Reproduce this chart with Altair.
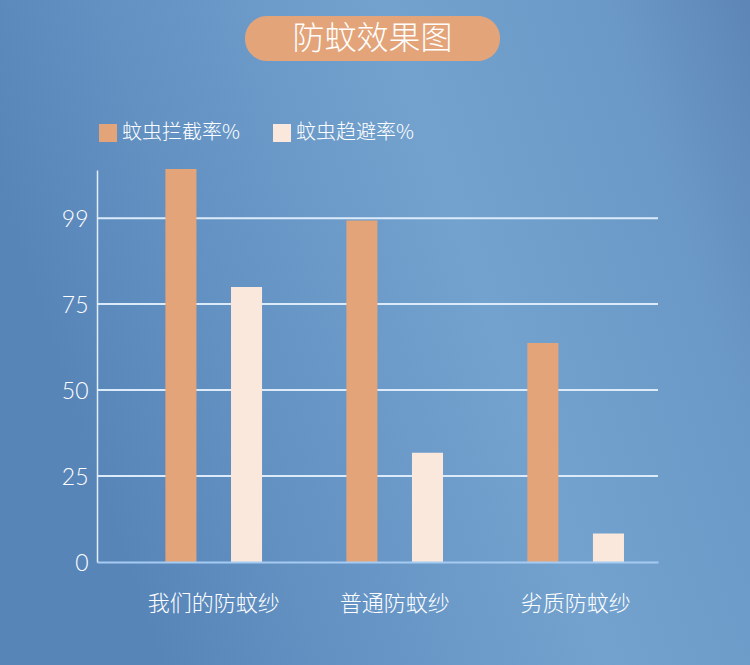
import altair as alt
import pandas as pd

# ---- data ----
categories = ["我们的防蚊纱", "普通防蚊纱", "劣质防蚊纱"]
series = ["蚊虫拦截率%", "蚊虫趋避率%"]
intercept_rate = [114.3, 99.3, 63.7]
repel_rate = [80.0, 31.8, 8.3]
y_ticks = [0, 25, 50, 75, 100]
y_tick_labels = ["0", "25", "50", "75", "99"]
grid_values = [25, 50, 75, 100]
title_text = "防蚊效果图"
bar_colors = ["#e3a47a", "#fbe8dc"]

rows = []
for c, a, b in zip(categories, intercept_rate, repel_rate):
    rows.append({"category": c, "series": series[0], "value": a})
    rows.append({"category": c, "series": series[1], "value": b})
df = pd.DataFrame(rows)
grid_df = pd.DataFrame({"value": grid_values})

# label expression built from the tick lists
label_expr = "datum.label"
for v, lab in zip(y_ticks, y_tick_labels):
    label_expr = f"datum.value === {v} ? '{lab}' : ({label_expr})"

CJK = "Noto Sans CJK SC"
W, H = 561, 392

y_enc = alt.Y(
    "value:Q",
    scale=alt.Scale(domain=[0, 114], nice=False),
    axis=alt.Axis(
        title=None, values=y_ticks, labelExpr=label_expr, ticks=False, grid=False,
        domainColor="#e2eefa", domainWidth=1.5, labelColor="#ffffff",
        labelFont="Lato", labelFontWeight=300, labelFontSize=23,
        labelPadding=9, labelOffset=1, zindex=1,
    ),
)

bg = alt.Chart(alt.Data(values=[{}])).mark_rect(
    color=alt.LinearGradient(
        gradient="linear",
        stops=[
            alt.GradientStop(offset=0, color="#5885b8"),
            alt.GradientStop(offset=0.3, color="#6796c6"),
            alt.GradientStop(offset=0.55, color="#74a2ce"),
            alt.GradientStop(offset=0.82, color="#6b99c7"),
            alt.GradientStop(offset=1, color="#5d86b6"),
        ],
        x1=0, x2=1, y1=0.3, y2=0,
    )
).encode(x=alt.value(-97), x2=alt.value(653), y=alt.value(-170), y2=alt.value(495))

grid = alt.Chart(grid_df).mark_rule(color="#dcebfa", strokeWidth=2).encode(y=y_enc)

bars = alt.Chart(df).mark_bar().encode(
    x=alt.X(
        "category:N", sort=categories,
        scale=alt.Scale(paddingInner=0.4, paddingOuter=0.25, align=0.69),
        axis=alt.Axis(
            title=None, labelAngle=0, ticks=False, grid=False,
            domainColor="#a6cbf2", domainWidth=2, labelColor="#ffffff",
            labelFont=CJK, labelFontWeight=300, labelFontSize=22,
            labelPadding=31, zindex=1,
        ),
    ),
    xOffset=alt.XOffset(
        "series:N", sort=series,
        scale=alt.Scale(paddingInner=0.527, paddingOuter=0.091),
    ),
    y=y_enc,
    color=alt.Color(
        "series:N", sort=series,
        scale=alt.Scale(domain=series, range=bar_colors),
        legend=alt.Legend(
            title=None, orient="none", legendX=1, legendY=-47,
            direction="horizontal", symbolType="square", symbolSize=324,
            symbolStrokeWidth=0, symbolOpacity=1, labelFontSize=20,
            labelFontWeight=300, labelColor="#ffffff", labelFont=CJK,
            labelOffset=4, columnPadding=32,
        ),
    ),
)

pill = alt.Chart(alt.Data(values=[{}])).mark_rect(
    color="#e3a47a", cornerRadius=22
).encode(x=alt.value(148), x2=alt.value(403), y=alt.value(-154), y2=alt.value(-109))

title = alt.Chart(pd.DataFrame({"t": [title_text]})).mark_text(
    color="#ffffff", font=CJK, fontSize=32, fontWeight=300,
    align="center", baseline="middle"
).encode(text="t:N", x=alt.value(275.5), y=alt.value(-131))

chart = alt.layer(bg, grid, bars, pill, title).properties(
    width=W, height=H,
    autosize=alt.AutoSizeParams(type="none"),
    padding={"left": 97, "top": 170, "right": 92, "bottom": 103},
).configure(background="#6594c4").configure_view(stroke="transparent")

chart.save("out.html", embed_options={"renderer": "svg", "actions": False})
